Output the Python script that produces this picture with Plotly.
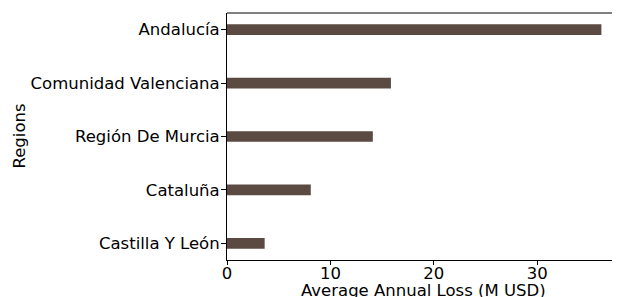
import plotly.graph_objects as go

regions = ["Andalucía", "Comunidad Valenciana", "Región De Murcia", "Cataluña", "Castilla Y León"]
losses = [36.2, 15.85, 14.1, 8.1, 3.64]
x_ticks = [0, 10, 20, 30]

fig = go.Figure(go.Bar(
    x=losses, y=regions, orientation="h", width=0.2,
    marker=dict(color="#5a4a42", line=dict(width=0)),
))

font = dict(family="DejaVu Sans", size=16.5, color="black")
# page body has an 8px default margin, so the figure is sized 612x289
fig.update_layout(
    width=612, height=289,
    margin=dict(l=219, r=0, t=5, b=37),
    paper_bgcolor="white", plot_bgcolor="white",
    font=font, showlegend=False,
)
fig.update_xaxes(
    range=[0, 38], tickvals=x_ticks, ticks="outside", ticklen=4, tickcolor="black",
    showline=True, linecolor="black", linewidth=1, mirror=False, showgrid=False, zeroline=False,
    automargin=False, tickfont=font, ticklabelstandoff=-6,
)
fig.update_yaxes(
    categoryorder="array", categoryarray=regions[::-1], range=[-0.31, 4.31],
    ticks="outside", ticklen=5, tickcolor="black",
    showline=True, linecolor="black", linewidth=1, showgrid=False, zeroline=False,
    automargin=False, tickfont=font, ticklabelstandoff=-2,
)
# top spine
fig.add_shape(type="line", xref="paper", yref="paper", x0=0, x1=1, y0=1, y1=1,
              line=dict(color="black", width=1))
# axis titles
fig.add_annotation(text="Average Annual Loss (M USD)", xref="paper", yref="paper",
                   x=0.5, y=0, yshift=-19, yanchor="top", showarrow=False, font=font)
fig.add_annotation(text="Regions", xref="paper", yref="paper", textangle=-90,
                   x=0, xshift=-208, y=0.5, xanchor="center", yanchor="middle",
                   showarrow=False, font=font)
fig.write_html("out.html")
